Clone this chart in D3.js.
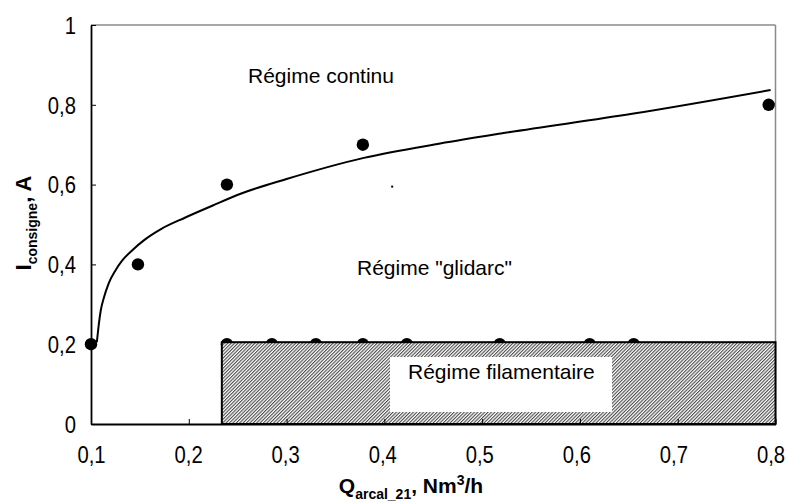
<!DOCTYPE html>
<html><head><meta charset="utf-8">
<script src="https://cdn.jsdelivr.net/npm/d3@7"></script>
<style>
html,body{margin:0;padding:0;background:#fff;}
text{font-family:"Liberation Sans",Arial,sans-serif;}
</style></head>
<body>
<svg id="chart" width="787" height="504"></svg>
<script>
// ---- data ----
const xTicks = [0.1, 0.2, 0.3, 0.4, 0.5, 0.6, 0.7, 0.8];
const xTickLabels = ["0,1", "0,2", "0,3", "0,4", "0,5", "0,6", "0,7", "0,8"];
const yTicks = [0, 0.2, 0.4, 0.6, 0.8, 1];
const yTickLabels = ["0", "0,2", "0,4", "0,6", "0,8", "1"];

// measured transition points
const transX = [0.1, 0.148, 0.239, 0.378, 0.793];
const transY = [0.2, 0.4, 0.6, 0.7, 0.8];
// points along lower (filamentary) boundary
const filX = [0.239, 0.285, 0.330, 0.378, 0.423, 0.518, 0.610, 0.655];
const filY = [0.2, 0.2, 0.2, 0.2, 0.2, 0.2, 0.2, 0.2];
// fitted trend curve
const curveX = [0.106, 0.108, 0.110, 0.113, 0.118, 0.125, 0.132, 0.142, 0.155, 0.172, 0.196, 0.224, 0.253, 0.300, 0.379, 0.457, 0.519, 0.655, 0.795];
const curveY = [0.205, 0.25, 0.285, 0.315, 0.352, 0.385, 0.41, 0.435, 0.462, 0.489, 0.517, 0.547, 0.577, 0.614, 0.667, 0.703, 0.728, 0.778, 0.837];
// filamentary region
const filRegionX = [0.2338, 0.8];
const filRegionY = [0, 0.205];
// stray mark
const strayX = [0.408];
const strayY = [0.595];

const regionLabels = ["Régime continu", "Régime \"glidarc\"", "Régime filamentaire"];

// ---- drawing ----
const svg = d3.select("#chart");
const x = d3.scaleLinear().domain([0.1, 0.8]).range([91, 775.5]);
const y = d3.scaleLinear().domain([0, 1]).range([424, 25]);

const defs = svg.append("defs");
const pat = defs.append("pattern").attr("id", "hatch")
  .attr("patternUnits", "userSpaceOnUse").attr("width", 2.4).attr("height", 2.4)
  .attr("patternTransform", "rotate(45)");
pat.append("rect").attr("width", 2.4).attr("height", 2.4).attr("fill", "#fff");
pat.append("line").attr("x1", 0.6).attr("y1", 0).attr("x2", 0.6).attr("y2", 2.4)
  .attr("stroke", "#222").attr("stroke-width", 0.9);

// frame top/right (gray)
svg.append("line").attr("x1", x(0.1)).attr("x2", x(0.8)).attr("y1", y(1)).attr("y2", y(1))
  .attr("stroke", "#8a8a8a").attr("stroke-width", 1.5);
svg.append("line").attr("x1", x(0.8)).attr("x2", x(0.8)).attr("y1", y(1)).attr("y2", y(0))
  .attr("stroke", "#8a8a8a").attr("stroke-width", 1.5);

// curve
const pts = curveX.map((d, i) => [d, curveY[i]]);
svg.append("path").datum(pts)
  .attr("d", d3.line().x(d => x(d[0])).y(d => y(d[1])).curve(d3.curveMonotoneX))
  .attr("fill", "none").attr("stroke", "#000").attr("stroke-width", 2);

// points
const allPts = transX.map((d, i) => [d, transY[i]]).concat(filX.map((d, i) => [d, filY[i]]));
svg.append("g").selectAll("circle").data(allPts).join("circle")
  .attr("cx", d => x(d[0])).attr("cy", d => y(d[1])).attr("r", 6.2).attr("fill", "#000");

svg.append("g").selectAll("rect").data(strayX.map((d, i) => [d, strayY[i]])).join("rect")
  .attr("x", d => x(d[0]) - 1).attr("y", d => y(d[1]) - 1).attr("width", 2).attr("height", 2).attr("fill", "#000");

// hatched filamentary region
svg.append("rect")
  .attr("x", x(filRegionX[0])).attr("y", y(filRegionY[1]))
  .attr("width", x(filRegionX[1]) - x(filRegionX[0]))
  .attr("height", y(filRegionY[0]) - y(filRegionY[1]))
  .attr("fill", "url(#hatch)").attr("stroke", "#000").attr("stroke-width", 2);
svg.append("rect").attr("x", 390).attr("y", 357).attr("width", 222).attr("height", 55).attr("fill", "#fff");

// axes
const gx = svg.append("g").attr("transform", `translate(0,${y(0)})`)
  .call(d3.axisBottom(x).tickValues(xTicks).tickFormat((d, i) => xTickLabels[i])
    .tickSizeInner(-5).tickSizeOuter(0).tickPadding(23));
const gy = svg.append("g").attr("transform", `translate(${x(0.1)},0)`)
  .call(d3.axisLeft(y).tickValues(yTicks).tickFormat((d, i) => yTickLabels[i])
    .tickSizeInner(-5).tickSizeOuter(0).tickPadding(15));
[gx, gy].forEach(g => {
  g.select(".domain").attr("stroke", "#000").attr("stroke-width", 1.8);
  g.selectAll(".tick line").attr("stroke", "#000").attr("stroke-width", 1);
  g.selectAll(".tick text").attr("fill", "#000")
    .style("font-size", "23px")
    .style("font-family", "'Liberation Sans', Arial, sans-serif");
});
// slightly condensed labels, progressively nudged left as in the original
gx.selectAll(".tick text")
  .attr("transform", (d, i) => `translate(${-i * 5 / 7},0) scale(0.88,1)`);
gy.selectAll(".tick text").attr("dy", "0.36em")
  .attr("transform", "translate(-15,0) scale(0.88,1)").attr("x", 0);

// region labels
svg.append("text").attr("x", 248).attr("y", 83).attr("font-size", 21).text(regionLabels[0]);
svg.append("text").attr("x", 357).attr("y", 275).attr("font-size", 21).text(regionLabels[1]);
svg.append("text").attr("x", 408).attr("y", 379).attr("font-size", 21).text(regionLabels[2]);

// x title
const xt = svg.append("text").attr("x", 411).attr("y", 493).attr("text-anchor", "middle")
  .attr("font-weight", "bold").attr("font-size", 21);
xt.append("tspan").text("Q");
xt.append("tspan").attr("font-size", 14).attr("dy", 6).text("arcal_21");
xt.append("tspan").attr("dy", -6).text(", Nm");
xt.append("tspan").attr("font-size", 14).attr("dy", -8).text("3");
xt.append("tspan").attr("dy", 8).text("/h");

// y title
const yt = svg.append("text").attr("transform", "translate(31,223) rotate(-90)")
  .attr("text-anchor", "middle").attr("font-weight", "bold").attr("font-size", 22);
yt.append("tspan").text("I");
yt.append("tspan").attr("font-size", 14).attr("dy", 6).text("consigne");
yt.append("tspan").attr("dy", -6).text(", A");
</script>
</body></html>
